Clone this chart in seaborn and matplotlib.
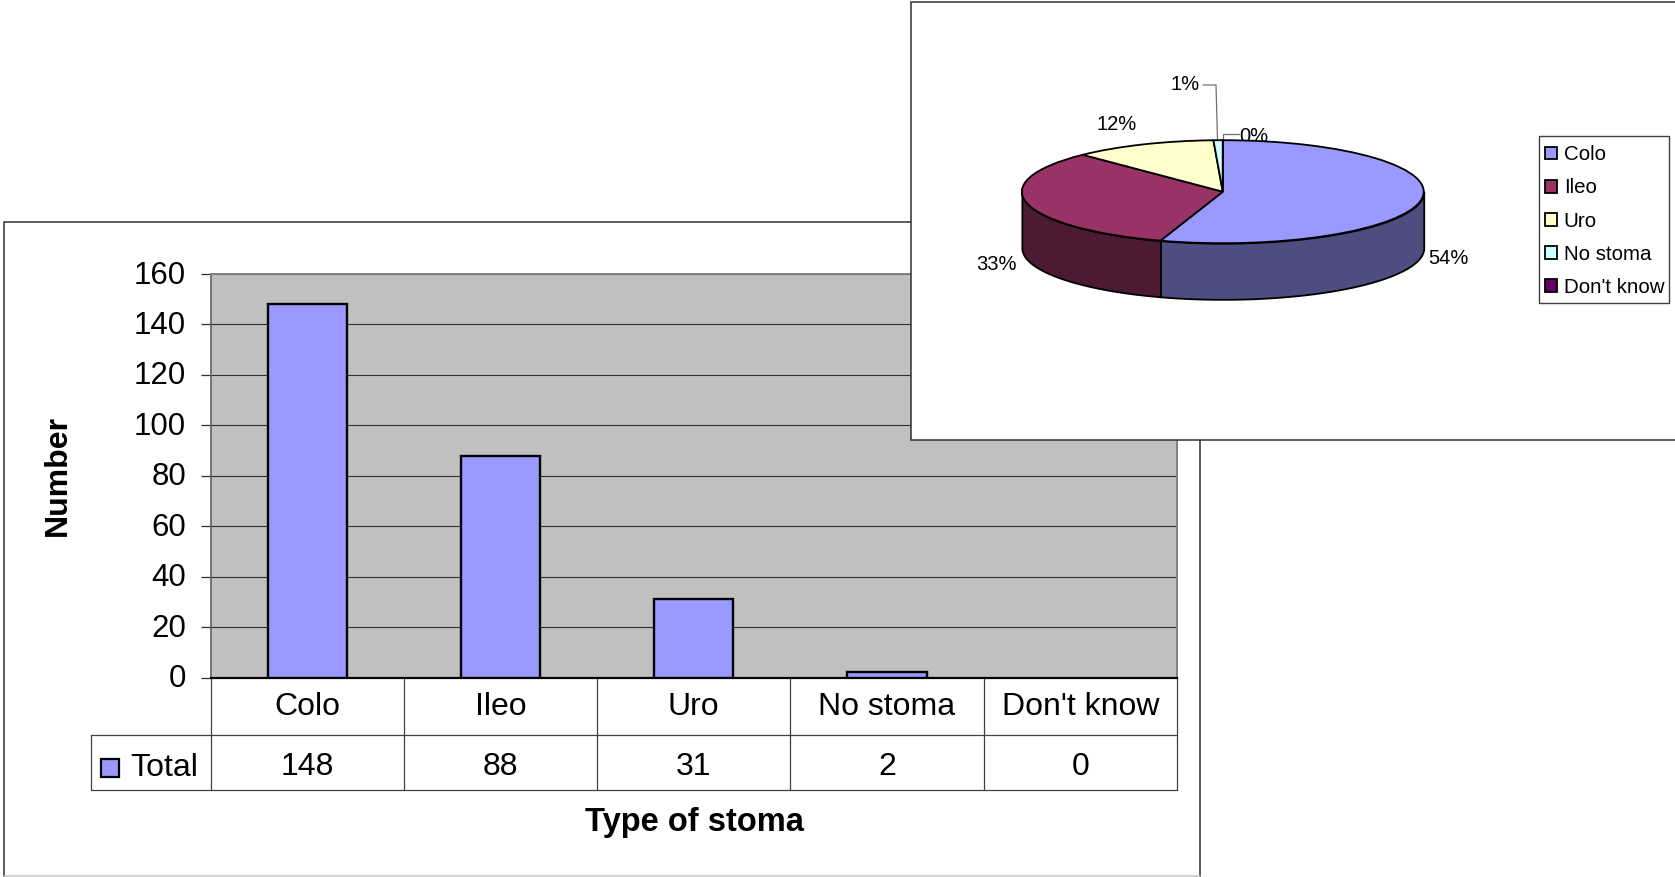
import numpy as np
import pandas as pd
import matplotlib
matplotlib.use("Agg")
import matplotlib.pyplot as plt
from matplotlib.patches import Rectangle
from matplotlib.transforms import ScaledTranslation
import seaborn as sns

categories = ["Colo", "Ileo", "Uro", "No stoma", "Don't know"]
totals = [148, 88, 31, 2, 0]
y_ticks = [0, 20, 40, 60, 80, 100, 120, 140, 160]
pie_labels = ["54%", "33%", "12%", "1%", "0%"]
series_name = "Total"

top_colors = ["#9999FF", "#993366", "#FFFFCC", "#CCFFFF", "#660066"]
side_colors = ["#4D4D80", "#4D1A33", "#808066", "#668080", "#330033"]

W, H = 1675, 877
sns.set_theme(style="white")
plt.rcParams["font.family"] = ["Liberation Sans", "DejaVu Sans"]

fig = plt.figure(figsize=(W / 100, H / 100), dpi=100, facecolor="white")


def px_axes(left, top, right, bottom, zorder):
    # axes placed by pixel box, y counted from the top of the image
    return fig.add_axes([left / W, 1 - bottom / H, (right - left) / W, (bottom - top) / H], zorder=zorder)


def overlay(zorder):
    a = px_axes(0, 0, W, H, zorder)
    a.set_xlim(0, W)
    a.set_ylim(H, 0)
    a.axis("off")
    a.patch.set_alpha(0)
    return a


# back panel with frame, data table and axis titles
back = overlay(0)
back.plot([3.5, 3.5, 1200, 1200], [877, 222, 222, 877], color="#303030", lw=1.1)
back.plot([3.5, 1200], [875.5, 875.5], color="#C8C8C8", lw=1.1)

# bar chart
ax = px_axes(210.5, 274, 1177, 677.5, 1)
df = pd.DataFrame({"stoma": categories, "total": totals})
sns.barplot(data=df, x="stoma", y="total", color=top_colors[0], saturation=1, width=0.41,
            edgecolor="black", linewidth=1.7, ax=ax, zorder=3)
# an empty bar should not leave a sliver above the axis
for p in ax.patches:
    if p.get_height() == 0:
        p.set_linewidth(0)
ax.set_facecolor("#C0C0C0")
ax.set_xlim(-0.5, 4.5)
ax.set_ylim(0, 160)
ax.set_yticks(y_ticks)
ax.set_xticks([])
ax.set_xlabel("")
ax.set_ylabel("")
ax.tick_params(axis="y", left=True, length=7.5, width=0.9, color="#303030", pad=10, labelsize=22.5, labelcolor="black")
nudge = ScaledTranslation(0, -1.5 / 100, fig.dpi_scale_trans)
for lab in ax.get_yticklabels():
    lab.set_va("center")
    lab.set_transform(lab.get_transform() + nudge)
ax.yaxis.grid(True, color="#303030", lw=0.8)
ax.set_axisbelow(True)
for side in ["top", "right"]:
    ax.spines[side].set_color("#808080")
    ax.spines[side].set_linewidth(1.4)
ax.spines["left"].set_color("#606060")
ax.spines["left"].set_linewidth(1.2)
ax.spines["bottom"].set_color("black")
ax.spines["bottom"].set_linewidth(1.6)

# data table under the bars
table_top, table_mid, table_bottom = 677.5, 735, 789.5
table_left, plot_left, plot_right = 91, 210.5, 1177
slot = (plot_right - plot_left) / len(categories)
line_kw = dict(color="#404040", lw=0.9)
back.plot([plot_left, plot_right], [table_bottom, table_bottom], **line_kw)
back.plot([table_left, plot_right], [table_mid, table_mid], **line_kw)
back.plot([table_left, plot_left], [table_bottom, table_bottom], **line_kw)
back.plot([table_left, table_left], [table_mid, table_bottom], **line_kw)
for i in range(len(categories) + 1):
    x = plot_left + i * slot
    back.plot([x, x], [table_top, table_bottom], **line_kw)
for i, (name, val) in enumerate(zip(categories, totals)):
    x = plot_left + (i + 0.5) * slot
    back.text(x, 707, name, ha="center", va="center", fontsize=23, color="black")
    back.text(x, 767, str(val), ha="center", va="center", fontsize=23, color="black")
back.add_patch(Rectangle((100.5, 759), 18, 18, fc=top_colors[0], ec="black", lw=1.6))
back.text(198, 768, series_name, ha="right", va="center", fontsize=23, color="black")
back.text(694, 822, "Type of stoma", ha="center", va="center", fontsize=23.5, fontweight="bold", color="black")
back.text(58, 476, "Number", ha="center", va="center", rotation=90, fontsize=23, fontweight="bold", color="black")

# pie panel sits on top of the bar chart
front = overlay(2)
front.add_patch(Rectangle((911, 2), 800, 437.5, fc="white", ec="#303030", lw=1.1))
front.add_patch(Rectangle((1538.5, 136), 130, 167, fc="white", ec="#404040", lw=1.0))
label_pos = [(1448.5, 259), (996, 265), (1116.5, 125), (1185.5, 85), (1254, 137)]
for txt, (lx, ly) in zip(pie_labels, label_pos):
    front.text(lx, ly, txt, ha="center", va="center", fontsize=14.5, color="black")
leader_kw = dict(color="#707070", lw=0.9)
front.plot([1203, 1216, 1217.5], [85, 85, 140], **leader_kw)
front.plot([1223, 1223, 1239], [140, 134, 134], **leader_kw)

# flattened pie, with the front wall drawn from the same slice angles
pie_ax = px_axes(1011.8, 129.9, 1433.8, 305, 3)
depth = 1.09
wedges, _ = pie_ax.pie(totals, colors=top_colors, startangle=90, counterclock=False,
                       wedgeprops=dict(edgecolor="black", linewidth=1.3))
pie_ax.set_aspect("auto")
pie_ax.set_xlim(-1.05, 1.05)
pie_ax.set_ylim(-2.2, 1.2)
for w in wedges:
    w.set_zorder(5)
sweep = np.cumsum([0] + totals) / sum(totals) * 2 * np.pi
for i in range(len(totals)):
    a = max(sweep[i], np.pi / 2)
    b = min(sweep[i + 1], 3 * np.pi / 2)
    if b <= a:
        continue
    t = np.linspace(a, b, 80)
    xs, ys = np.sin(t), np.cos(t)
    pie_ax.fill_between(xs, ys, ys - depth, facecolor=side_colors[i], edgecolor="black", linewidth=1.3, zorder=2)

pie_ax.legend(wedges, categories, loc="upper left",
              bbox_to_anchor=(1545 / W, 1 - 145.3 / H), bbox_transform=fig.transFigure,
              fontsize=14.8, frameon=False, labelspacing=0.69, handlelength=0.58, handleheight=0.58,
              handletextpad=0.33, borderpad=0, borderaxespad=0, labelcolor="black")

fig.savefig("out.png", dpi=100)
